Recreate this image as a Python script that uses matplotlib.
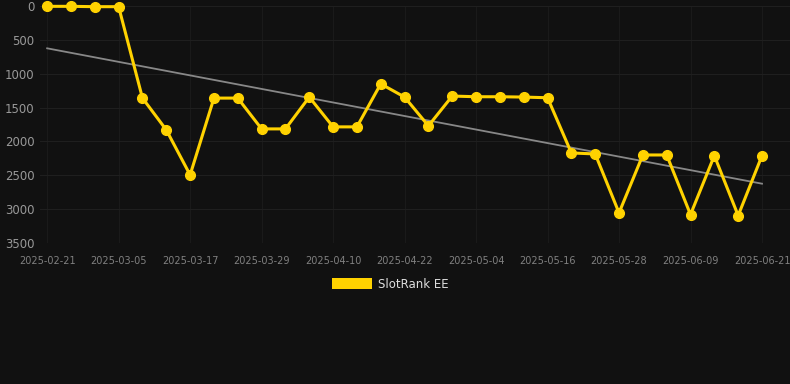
import numpy as np
import pandas as pd
import matplotlib
matplotlib.use('Agg')
import matplotlib.pyplot as plt
import matplotlib.dates as mdates
from matplotlib.patches import Patch

# rank every 4 days, 2025-02-21 .. 2025-06-21
dates = pd.date_range('2025-02-21', '2025-06-21', freq='4D')
ranks = [5, 5, 10, 10, 1360, 1830, 2495, 1360, 1360, 1815, 1815, 1345,
         1785, 1785, 1150, 1345, 1770, 1330, 1340, 1340, 1345, 1355,
         2170, 2185, 3055, 2200, 2200, 3080, 2210, 3095, 2210]
tick_dates = pd.date_range('2025-02-21', '2025-06-21', freq='12D')
tick_labels = [d.strftime('%Y-%m-%d') for d in tick_dates]
y_ticks = [0, 500, 1000, 1500, 2000, 2500, 3000, 3500]

bg = '#111111'
gold = '#FFD200'

fig = plt.figure(figsize=(7.9, 3.84), dpi=100, facecolor=bg)
ax = fig.add_axes([40 / 790, 1 - 243 / 384, 750 / 790, 237 / 384])
ax.set_facecolor(bg)

x = mdates.date2num(dates)
ax.plot(dates, ranks, color=gold, lw=2.2, marker='o', ms=7, clip_on=False, zorder=3)

# linear trend
k, b = np.polyfit(x, ranks, 1)
ax.plot(dates[[0, -1]], k * x[[0, -1]] + b, color='#888888', lw=1.3, zorder=2)

ax.set_ylim(3500, 0)
ax.set_yticks(y_ticks)
ax.set_xlim(mdates.date2num(pd.Timestamp('2025-02-21')) - 1.2,
            mdates.date2num(pd.Timestamp('2025-06-21')) + 4.7)
ax.set_xticks(tick_dates)
ax.set_xticklabels(tick_labels)

ax.grid(True, axis='y', color='#1f1f1f', lw=0.8)
ax.grid(True, axis='x', color='#1a1a1a', lw=0.8)
ax.set_axisbelow(True)
for s in ax.spines.values():
    s.set_visible(False)
ax.tick_params(axis='y', length=0, pad=4, labelsize=8.5, labelcolor='#999999')
ax.tick_params(axis='x', length=0, pad=9, labelsize=7, labelcolor='#808080')

fig.legend(handles=[Patch(facecolor=gold, label='SlotRank EE')],
           loc='center', bbox_to_anchor=(390 / 790, 1 - 284 / 384),
           frameon=False, fontsize=8.5, labelcolor='#dddddd',
           handlelength=3.4, handleheight=1.0, handletextpad=0.5)

fig.savefig('out.png', dpi=100, facecolor=bg)
